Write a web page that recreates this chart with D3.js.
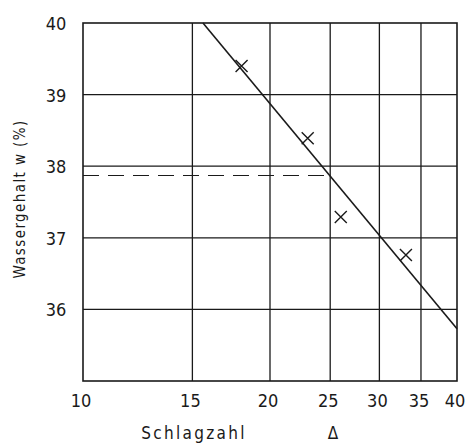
<!DOCTYPE html>
<html><head><meta charset="utf-8">
<script src="https://cdn.jsdelivr.net/npm/d3@7"></script>
<style>body{margin:0;background:#fff}svg text{font-family:"DejaVu Sans Condensed","DejaVu Sans",sans-serif;fill:#1a1a1a}</style>
</head><body>
<svg id="c" width="467" height="447"></svg>
<script>
const xTicks = [10, 15, 20, 25, 30, 35, 40];
const yTicks = [36, 37, 38, 39, 40];
const blows = [18.0, 23.0, 26.0, 33.1];
const water = [39.40, 38.39, 37.29, 36.76];
const fitX = [15.6, 40];
const fitY = [40, 35.73];
const liquidLimit = 37.87;
const refBlows = 25;

const svg = d3.select("#c");
const x = d3.scaleLog().domain([10, 40]).range([83, 457]);
const y = d3.scaleLinear().domain([35, 40]).range([381, 23]);
const ink = "#1a1a1a";

// grid
svg.append("g").selectAll("line").data(xTicks.slice(1, -1)).join("line")
  .attr("x1", d => x(d)).attr("x2", d => x(d)).attr("y1", y(40)).attr("y2", y(35))
  .attr("stroke", ink).attr("stroke-width", 1.3);
svg.append("g").selectAll("line").data(yTicks.slice(0, -1)).join("line")
  .attr("y1", d => y(d)).attr("y2", d => y(d)).attr("x1", x(10)).attr("x2", x(40))
  .attr("stroke", ink).attr("stroke-width", 1.3);
// frame
svg.append("rect").attr("x", x(10)).attr("y", y(40)).attr("width", x(40) - x(10)).attr("height", y(35) - y(40))
  .attr("fill", "none").attr("stroke", ink).attr("stroke-width", 1.6);

// dashed liquid limit line
svg.append("line").attr("x1", x(10)).attr("x2", x(refBlows)).attr("y1", y(liquidLimit)).attr("y2", y(liquidLimit))
  .attr("stroke", ink).attr("stroke-width", 1.2).attr("stroke-dasharray", "16,9");

// fit line
svg.append("path").datum(fitX.map((d, i) => [d, fitY[i]]))
  .attr("d", d3.line().x(d => x(d[0])).y(d => y(d[1])))
  .attr("stroke", ink).attr("stroke-width", 1.6).attr("fill", "none");

// markers
const s = 6;
const pts = svg.append("g").selectAll("g").data(blows.map((d, i) => [d, water[i]])).join("g")
  .attr("transform", d => `translate(${x(d[0])},${y(d[1])})`);
pts.append("path").attr("d", `M${-s},${-s}L${s},${s}M${-s},${s}L${s},${-s}`)
  .attr("stroke", ink).attr("stroke-width", 1.4);

// tick labels
svg.append("g").selectAll("text").data(yTicks).join("text")
  .attr("x", 56).attr("y", d => y(d) + 2).attr("text-anchor", "middle").attr("dominant-baseline", "middle")
  .attr("font-size", 18).text(d => d);
svg.append("g").selectAll("text").data(xTicks).join("text")
  .attr("x", d => x(d) - 2).attr("y", 402).attr("text-anchor", "middle").attr("dominant-baseline", "middle")
  .attr("font-size", 18).text(d => d);

// axis titles
svg.append("text").attr("x", 194).attr("y", 434).attr("text-anchor", "middle").attr("dominant-baseline", "middle")
  .attr("font-size", 17).attr("letter-spacing", 2.3).text("Schlagzahl");
svg.append("text").attr("x", 333).attr("y", 434).attr("text-anchor", "middle").attr("dominant-baseline", "middle")
  .attr("font-size", 17).text("Δ");
svg.append("text").attr("transform", "translate(20,199) rotate(-90)").attr("text-anchor", "middle")
  .attr("dominant-baseline", "middle").attr("font-size", 15).attr("letter-spacing", 1.4).text("Wassergehalt w (%)");
</script>
</body></html>
